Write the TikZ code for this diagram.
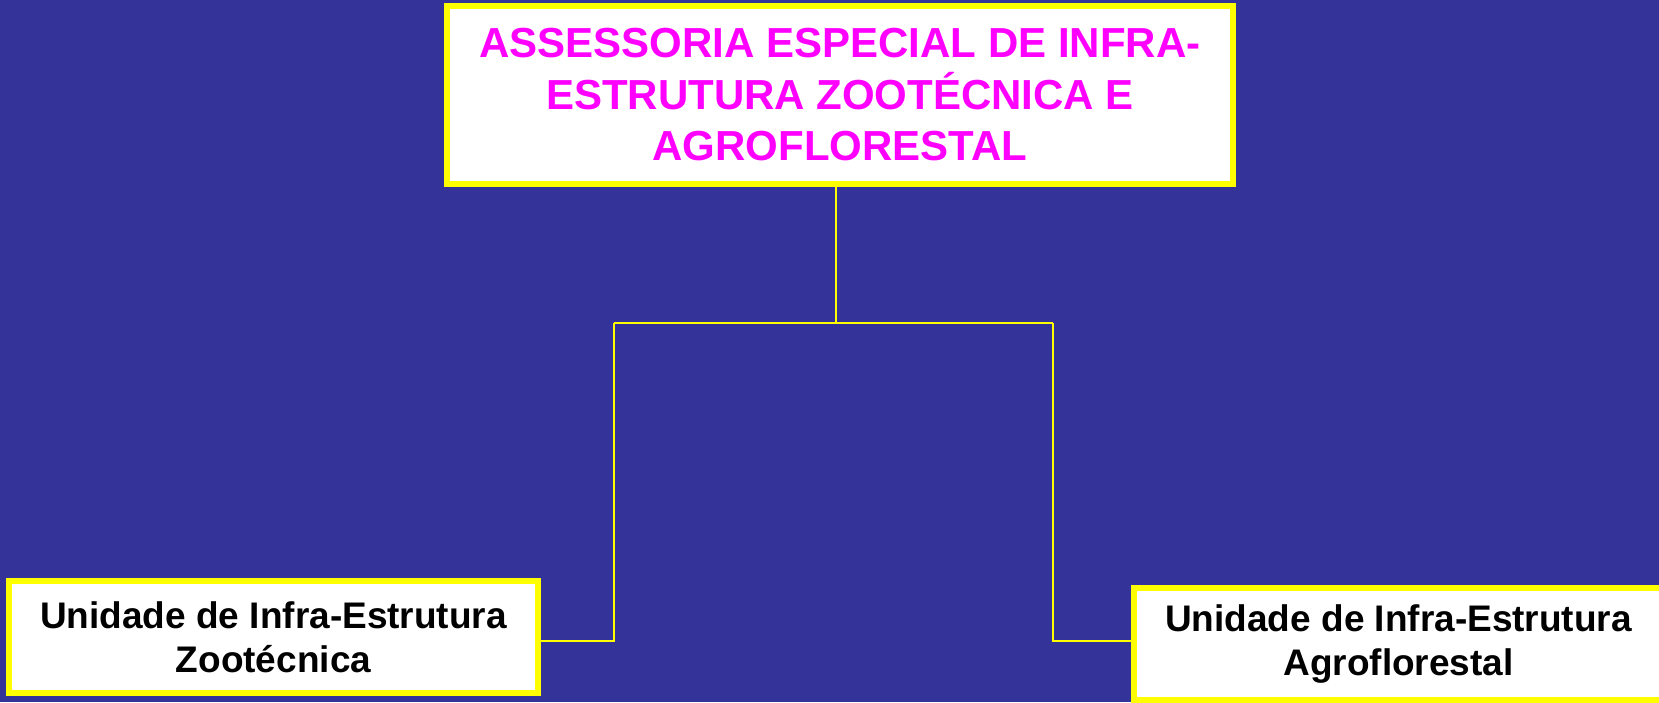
\documentclass[tikz,border=0pt]{standalone}
\usepackage{fontspec}
\setmainfont{Liberation Sans}
\usepackage{tikz}
\usetikzlibrary{calc}
\definecolor{slideblue}{HTML}{333399}
\definecolor{boxyellow}{HTML}{FFFF00}
\definecolor{headmagenta}{HTML}{FF00FF}
\tikzset{
  orgbox/.style={draw=boxyellow, line width=6pt, fill=white, inner sep=0pt, align=center, font=\bfseries},
  link/.style={draw=boxyellow, line width=2pt}
}
\newcommand{\unitbox}[4]{\node[orgbox, minimum width=529pt, minimum height=112pt, font=\bfseries\fontsize{37}{44}\selectfont] (#1) at ( #2 , #3 ) {#4};}

\begin{document}
\begin{tikzpicture}[x=1pt,y=1pt]
        \useasboundingbox (0,0) rectangle (1659,702);
        \fill[slideblue] (0,0) rectangle (1659,702);

        % head
        \node[orgbox, minimum width=786pt, minimum height=178pt, text=headmagenta,
              font=\bfseries\fontsize{42}{51.5}\selectfont] (head) at (840,607)
              {ASSESSORIA ESPECIAL DE INFRA-\\ESTRUTURA ZOOTÉCNICA E\\AGROFLORESTAL};

        % units
        \unitbox{zoo}{273.5}{65}{Unidade de Infra-Estrutura\\Zootécnica}
        \unitbox{agro}{1398.5}{58}{Unidade de Infra-Estrutura\\Agroflorestal}

        \coordinate (drop) at ($(head.south)+(-4,0)$);
        \coordinate (busl) at (614,379);
        \coordinate (busr) at (1053,379);

        \draw[link] (drop) -- (drop |- busl);
        \draw[link] (busl) -- (busr);
        \draw[link] (busl) -- (busl |- 0,61) -- (zoo.east |- 0,61);
        \draw[link] (busr) -- (busr |- 0,61) -- (agro.west |- 0,61);
\end{tikzpicture}
\end{document}
